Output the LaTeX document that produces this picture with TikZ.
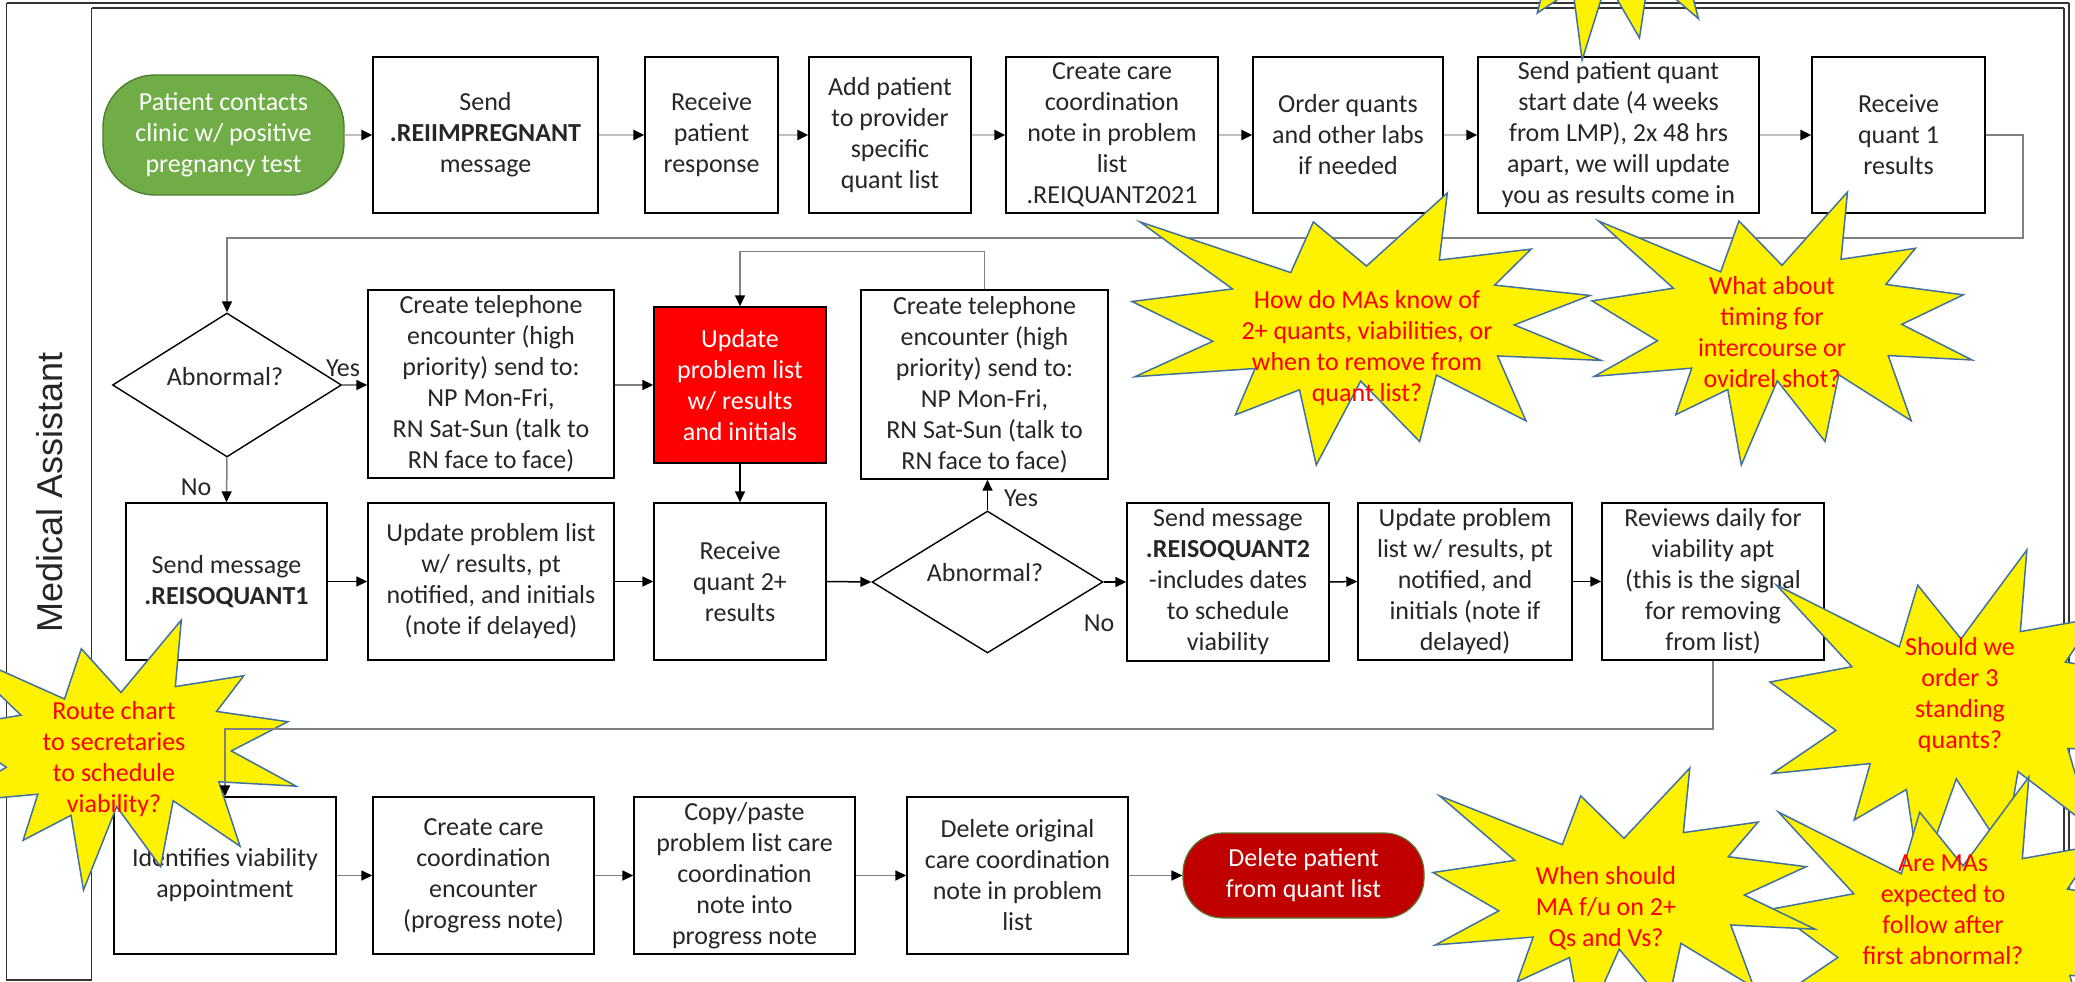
\documentclass[tikz,border=0pt]{standalone}
\usepackage{fontspec}
\setmainfont{Carlito}
\newfontfamily\arialf{Liberation Sans}
\usetikzlibrary{arrows.meta,shapes.geometric}
\definecolor{grn}{HTML}{70AD47}
\definecolor{grnb}{HTML}{507E32}
\definecolor{dred}{HTML}{C00000}
\definecolor{txt}{HTML}{262626}
\definecolor{burstb}{HTML}{41719C}
\definecolor{lgray}{HTML}{BFBFBF}
\definecolor{mgray}{HTML}{808080}
\newcommand\fsz{\fontsize{26}{31}\selectfont}
\newcommand\burstshape[4]{%
  \begin{scope}[shift={(#1,#2)},xscale=#3/216,yscale=#4/216]
  \draw[burstb,line width=1.5pt,fill=yellow,line join=miter]
  (108,58) -- (145.22,0) -- (141.55,53.25) -- (183.80,44.57) -- (167.02,73.15) --
  (210.97,81.37) -- (176.07,104.75) -- (216,132.90) -- (168.37,129.42) --
  (181.45,180.95) -- (140.20,144.57) -- (132.47,197.37) -- (105.32,149.35) --
  (84.85,216) -- (77.15,156.27) -- (47.62,176.17) -- (56.67,139.37) --
  (1.35,145.87) -- (37.22,117.75) -- (0,86.15) -- (46.27,76.17) --
  (3.70,22.95) -- (73.12,63.20) -- (83.52,22.95) -- cycle;
  \end{scope}}
\tikzset{
  box/.style={draw=black,line width=1.4pt,fill=white,align=center,text=txt,font=\fsz,inner sep=2pt},
  dia/.style={diamond,draw=black,line width=1.4pt,fill=white,inner sep=0pt},
  lbl/.style={align=center,text=txt,font=\fsz,inner sep=0pt},
  bt/.style={align=center,text=red,font=\fsz,inner sep=0pt},
  arr/.style={-{Triangle[length=11pt,width=10pt,color=black]},line width=1.5pt},
  arrA/.style={arr,draw=lgray,line width=2.6pt},
  arrB/.style={arr,draw=mgray},
  arrC/.style={arr,draw=black},
  frame/.style={draw=black!80,line width=1.4pt}
}
\begin{document}
\begin{tikzpicture}[x=1pt,y=-1pt]
\useasboundingbox (0,0) rectangle (2075,982);
\fill[white] (0,0) rectangle (2075,982);
% pool frame
\draw[frame] (6.7,3) -- (2069,3);
\draw[frame] (91.5,8) -- (2064,8);
\draw[frame] (6.7,3) -- (6.7,980) -- (91.5,980) -- (91.5,8);
\draw[frame] (2069,3) -- (2069,990);
\draw[frame] (2064,8) -- (2064,990);
\node[rotate=90,font=\arialf\fontsize{36}{40}\selectfont,text=txt] (lane) at (50,492) {Medical Assistant};

% row 1
\node[draw=grnb,line width=1.4pt,fill=grn,rounded corners=52pt,minimum width=241,minimum height=120,align=center,text=white,font=\fsz] (g) at (223.5,135) {Patient contacts\\clinic w/ positive\\pregnancy test};
\node[box,minimum width=225,minimum height=156] (b2) at (485.5,135) {Send\\\textbf{.REIIMPREGNANT}\\message};
\node[box,minimum width=133,minimum height=156] (b3) at (711.5,135) {Receive\\patient\\response};
\node[box,minimum width=162,minimum height=156] (b4) at (890,135) {Add patient\\to provider\\specific\\quant list};
\node[box,minimum width=212,minimum height=156] (b5) at (1112,135) {Create care\\coordination\\note in problem\\list\\.REIQUANT2021};
\node[box,minimum width=190,minimum height=156] (b6) at (1348,135) {Order quants\\and other labs\\if needed};
\node[box,minimum width=281,minimum height=156] (b7) at (1618.5,135) {Send patient quant\\start date (4 weeks\\from LMP), 2x 48 hrs\\apart, we will update\\you as results come in};
\node[box,minimum width=173,minimum height=156] (b8) at (1898.5,135) {Receive\\quant 1\\results};

% row 2
\node[dia,minimum width=229,minimum height=144] (d1) at (227,385) {};
\node[lbl] (d1t) at (225,377) {Abnormal?};
\node[box,minimum width=246,minimum height=188] (t1) at (491,384) {Create telephone\\encounter (high\\priority) send to:\\NP Mon-Fri,\\RN Sat-Sun (talk to\\RN face to face)};
\node[box,fill=red,text=white,minimum width=172,minimum height=156] (rd) at (740,385) {Update\\problem list\\w/ results\\and initials};
\node[box,minimum width=247,minimum height=189] (t2) at (984.5,384.5) {Create telephone\\encounter (high\\priority) send to:\\NP Mon-Fri,\\RN Sat-Sun (talk to\\RN face to face)};

% row 3
\node[box,minimum width=201,minimum height=157] (s1) at (226.5,581.5) {Send message\\\textbf{.REISOQUANT1}};
\node[box,minimum width=246,minimum height=157] (u1) at (491,581.5) {Update problem list\\w/ results, pt\\notified, and initials\\(note if delayed)};
\node[box,minimum width=172,minimum height=157] (r2) at (740,581.5) {Receive\\quant 2+\\results};
\node[dia,minimum width=231,minimum height=142] (d2) at (987.5,582) {};
\node[lbl] (d2t) at (985,573) {Abnormal?};
\node[box,minimum width=202,minimum height=158] (s2) at (1228,582) {Send message\\\textbf{.REISOQUANT2}\\-includes dates\\to schedule\\viability};
\node[box,minimum width=214,minimum height=157] (u2) at (1465,581.5) {Update problem\\list w/ results, pt\\notified, and\\initials (note if\\delayed)};
\node[box,minimum width=222,minimum height=157] (rv) at (1713,581.5) {Reviews daily for\\viability apt\\(this is the signal\\for removing\\from list)};

% row 4
\node[box,minimum width=222,minimum height=157] (i1) at (225,875.5) {Identifies viability\\appointment};
\node[box,minimum width=221,minimum height=157] (c1) at (483.5,875.5) {Create care\\coordination\\encounter\\(progress note)};
\node[box,minimum width=221,minimum height=157] (cp) at (744.5,875.5) {Copy/paste\\problem list care\\coordination\\note into\\progress note};
\node[box,minimum width=221,minimum height=157] (dl) at (1017.5,875.5) {Delete original\\care coordination\\note in problem\\list};
\node[draw=grnb,line width=1.2pt,fill=dred,rounded corners=40pt,minimum width=241,minimum height=85,align=center,text=white,font=\fsz] (tm) at (1303.5,875.5) {Delete patient\\from quant list};

% connectors row 1
\draw[arrA] (g.east) -- (b2.west);
\draw[arrA] (b2.east) -- (b3.west);
\draw[arrA] (b3.east) -- (b4.west);
\draw[arrA] (b4.east) -- (b5.west);
\draw[arrA] (b5.east) -- (b6.west);
\draw[arrA] (b6.east) -- (b7.west);
\draw[arrA] (b7.east) -- (b8.west);
\coordinate (ret1) at (2023,238);
\draw[arrB] (b8.east) -| (ret1) -| (d1.north);
% row 2
\draw[arrB] (d1.east) -- (d1.east -| t1.west);
\node[lbl] (yes1) at (343,368) {Yes};
\draw[arrB] (d1.south) -- (s1.north);
\node[lbl] (no1) at (196,487) {No};
\draw[arrB] (t1.east |- rd.west) -- (rd.west);
\draw[arrB] (t2.north) -- ++(0,-38) -| (rd.north);
\draw[arrC] (rd.south) -- (r2.north);
% row 3
\draw[arrC] (s1.east) -- (u1.west);
\draw[arrC] (u1.east) -- (r2.west);
\draw[arrC] (r2.east) -- (d2.west);
\draw[arrC] (d2.north) -- (d2.north |- t2.south);
\node[lbl] (yes2) at (1021,498) {Yes};
\draw[arrC] (d2.east) -- (d2.east -| s2.west);
\node[lbl] (no2) at (1099,623) {No};
\draw[arrC] (s2.east) -- (u2.west);
\draw[arrC] (u2.east) -- (rv.west);
% row 4
\draw[arrB] (i1.east) -- (c1.west);
\draw[arrB] (c1.east) -- (cp.west);
\draw[arrB] (cp.east) -- (dl.west);
\draw[arrB] (dl.east) -- (tm.west);

% starbursts
\burstshape{1480}{-195}{260}{255}
\burstshape{1132}{193}{469}{272}
\burstshape{1592}{192}{380}{273}
\burstshape{-54}{620}{350}{270}
\burstshape{1770}{550}{382}{331}
\burstshape{1772}{777}{382}{331}
\burstshape{1433}{768}{382}{262}
\node[bt] (q1) at (1367,348) {How do MAs know of\\2+ quants, viabilities, or\\when to remove from\\quant list?};
\node[bt] (q2) at (1772,332) {What about\\timing for\\intercourse or\\ovidrel shot?};
\node[bt] (q3) at (114,759) {Route chart\\to secretaries\\to schedule\\viability?};
\node[bt] (q4) at (1960,695) {Should we\\order 3\\standing\\quants?};
\node[bt] (q5) at (1606,908) {When should\\MA f/u on 2+\\Qs and Vs?};
\node[bt] (q6) at (1943,910) {Are MAs\\expected to\\follow after\\first abnormal?};

% return connector drawn above the callouts
\coordinate (ret2) at (1713,729);
\draw[arrB] (rv.south) -- (ret2) -| (i1.north);
\end{tikzpicture}
\end{document}
